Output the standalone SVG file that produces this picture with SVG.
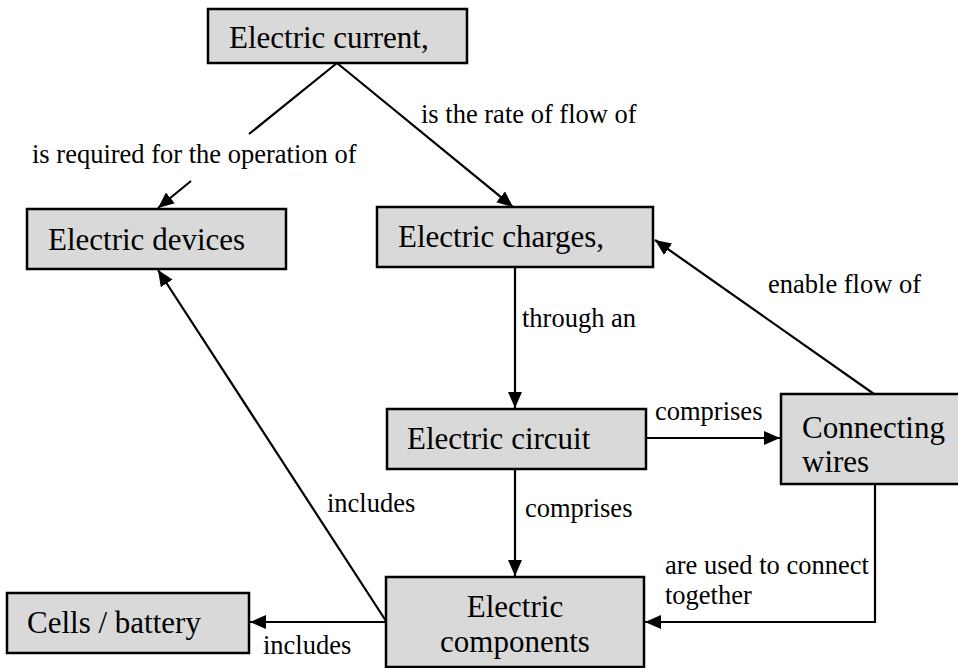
<svg xmlns="http://www.w3.org/2000/svg" width="958" height="668" viewBox="0 0 958 668">
  <style>
    .box { fill: #d9d9d9; stroke: #000; stroke-width: 2.5; }
    .ln { fill: none; stroke: #000; stroke-width: 2.2; }
    .lb { font-family: "Liberation Serif", "Times New Roman", serif; font-size: 26.5px; fill: #000; }
    .nt { font-family: "Liberation Serif", "Times New Roman", serif; font-size: 31px; fill: #000; }
  </style>
  <defs>
    <marker id="arr" viewBox="0 0 16 14" refX="16" refY="7" markerWidth="16" markerHeight="14" markerUnits="userSpaceOnUse" orient="auto">
      <path d="M0,0 L16,7 L0,14 z" fill="#000"/>
    </marker>
  </defs>
  <rect width="958" height="668" fill="#fff"/>

  <g id="connectors">
    <line class="ln" x1="337" y1="63" x2="249" y2="134"/>
    <line class="ln" x1="191" y1="181" x2="158" y2="208" marker-end="url(#arr)"/>
    <line class="ln" x1="337" y1="63" x2="513" y2="207" marker-end="url(#arr)"/>
    <line class="ln" x1="515" y1="267" x2="515" y2="408" marker-end="url(#arr)"/>
    <line class="ln" x1="646" y1="438" x2="780" y2="438" marker-end="url(#arr)"/>
    <line class="ln" x1="874" y1="394" x2="655" y2="240" marker-end="url(#arr)"/>
    <line class="ln" x1="515" y1="469" x2="515" y2="576" marker-end="url(#arr)"/>
    <polyline class="ln" points="875,484 875,622 645,622" marker-end="url(#arr)"/>
    <line class="ln" x1="386" y1="621" x2="158" y2="270" marker-end="url(#arr)"/>
    <line class="ln" x1="386" y1="622" x2="250" y2="622" marker-end="url(#arr)"/>
    <text class="lb" x="32" y="163">is required for the operation of</text>
    <text class="lb" x="421" y="123">is the rate of flow of</text>
    <text class="lb" x="522" y="327">through an</text>
    <text class="lb" x="768" y="293">enable flow of</text>
    <text class="lb" x="655" y="420">comprises</text>
    <text class="lb" x="525" y="517">comprises</text>
    <text class="lb" x="327" y="512">includes</text>
    <text class="lb" x="263" y="654">includes</text>
    <text class="lb" x="665" y="574">are used to connect<tspan x="665" dy="30">together</tspan></text>
  </g>

  <g id="current">
    <rect class="box" x="208" y="9" width="259" height="54"/>
    <text class="nt" x="229" y="48">Electric current,</text>
  </g>
  <g id="devices">
    <rect class="box" x="27" y="209" width="259" height="60"/>
    <text class="nt" x="48" y="250">Electric devices</text>
  </g>
  <g id="charges">
    <rect class="box" x="377" y="207" width="276" height="60"/>
    <text class="nt" x="398" y="247">Electric charges,</text>
  </g>
  <g id="circuit">
    <rect class="box" x="387" y="409" width="259" height="60"/>
    <text class="nt" x="407" y="449">Electric circuit</text>
  </g>
  <g id="wires">
    <rect class="box" x="781" y="394" width="190" height="90"/>
    <text class="nt" x="802" y="438">Connecting<tspan x="802" dy="34">wires</tspan></text>
  </g>
  <g id="components">
    <rect class="box" x="386" y="577" width="258" height="90"/>
    <text class="nt" x="515" y="617" text-anchor="middle">Electric<tspan x="515" dy="35">components</tspan></text>
  </g>
  <g id="cells">
    <rect class="box" x="7" y="593" width="242" height="60"/>
    <text class="nt" x="27" y="633">Cells / battery</text>
  </g>
</svg>
